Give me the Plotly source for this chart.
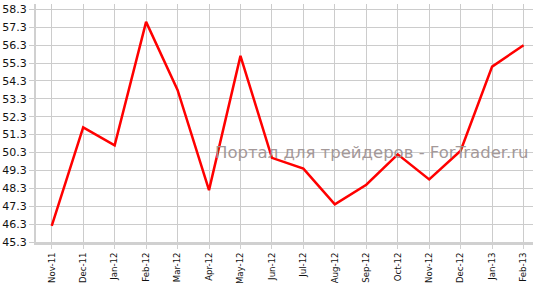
import plotly.graph_objects as go

months = ["Nov-11", "Dec-11", "Jan-12", "Feb-12", "Mar-12", "Apr-12", "May-12", "Jun-12",
          "Jul-12", "Aug-12", "Sep-12", "Oct-12", "Nov-12", "Dec-12", "Jan-13", "Feb-13"]
values = [46.2, 51.7, 50.7, 57.6, 53.8, 48.2, 55.7, 50.0,
          49.4, 47.4, 48.5, 50.2, 48.8, 50.4, 55.1, 56.3]
y_ticks = [45.3 + i for i in range(14)]
y_tick_text = ["%.1f" % v for v in y_ticks]
watermark = "Портал для трейдеров - ForTrader.ru"

fig = go.Figure()
fig.add_trace(go.Scatter(
    x=list(range(len(months))), y=values, mode="lines",
    line=dict(color="#ff0000", width=2.5), hoverinfo="skip", showlegend=False,
))

fig.update_layout(
    template="none",
    width=533, height=283,
    margin=dict(l=36, r=0, t=4, b=41, autoexpand=False),
    paper_bgcolor="white", plot_bgcolor="white",
    font=dict(family="DejaVu Sans, Verdana, sans-serif", size=11, color="#111111"),
    xaxis=dict(
        tickmode="array", tickvals=list(range(len(months))), ticktext=months,
        tickangle=-90, range=[-0.5, 15.3], automargin=False,
        showgrid=True, gridcolor="#cccccc", gridwidth=1,
        showline=True, linecolor="#d0d0d0", linewidth=3,
        ticks="outside", ticklen=4, tickcolor="#d0d0d0", zeroline=False,
        tickfont=dict(size=8.6, color="#111111"),
    ),
    yaxis=dict(
        tickmode="array", tickvals=y_ticks, ticktext=y_tick_text,
        range=[45.3, 58.6], automargin=False,
        showgrid=True, gridcolor="#cccccc", gridwidth=1,
        showline=True, linecolor="#d0d0d0", linewidth=2,
        ticks="outside", ticklen=5, tickcolor="#cccccc",
        zeroline=False,
        tickfont=dict(size=11, color="#111111"),
    ),
    annotations=[dict(
        text=watermark, xref="paper", yref="paper",
        x=(372 - 36) / 497, y=(238 - (152 - 4)) / 238,
        xanchor="center", yanchor="middle", showarrow=False,
        font=dict(family="DejaVu Sans, Verdana, sans-serif", size=16.5, color="#a09494"),
        opacity=0.95,
    )],
)

fig.write_html("out.html")
